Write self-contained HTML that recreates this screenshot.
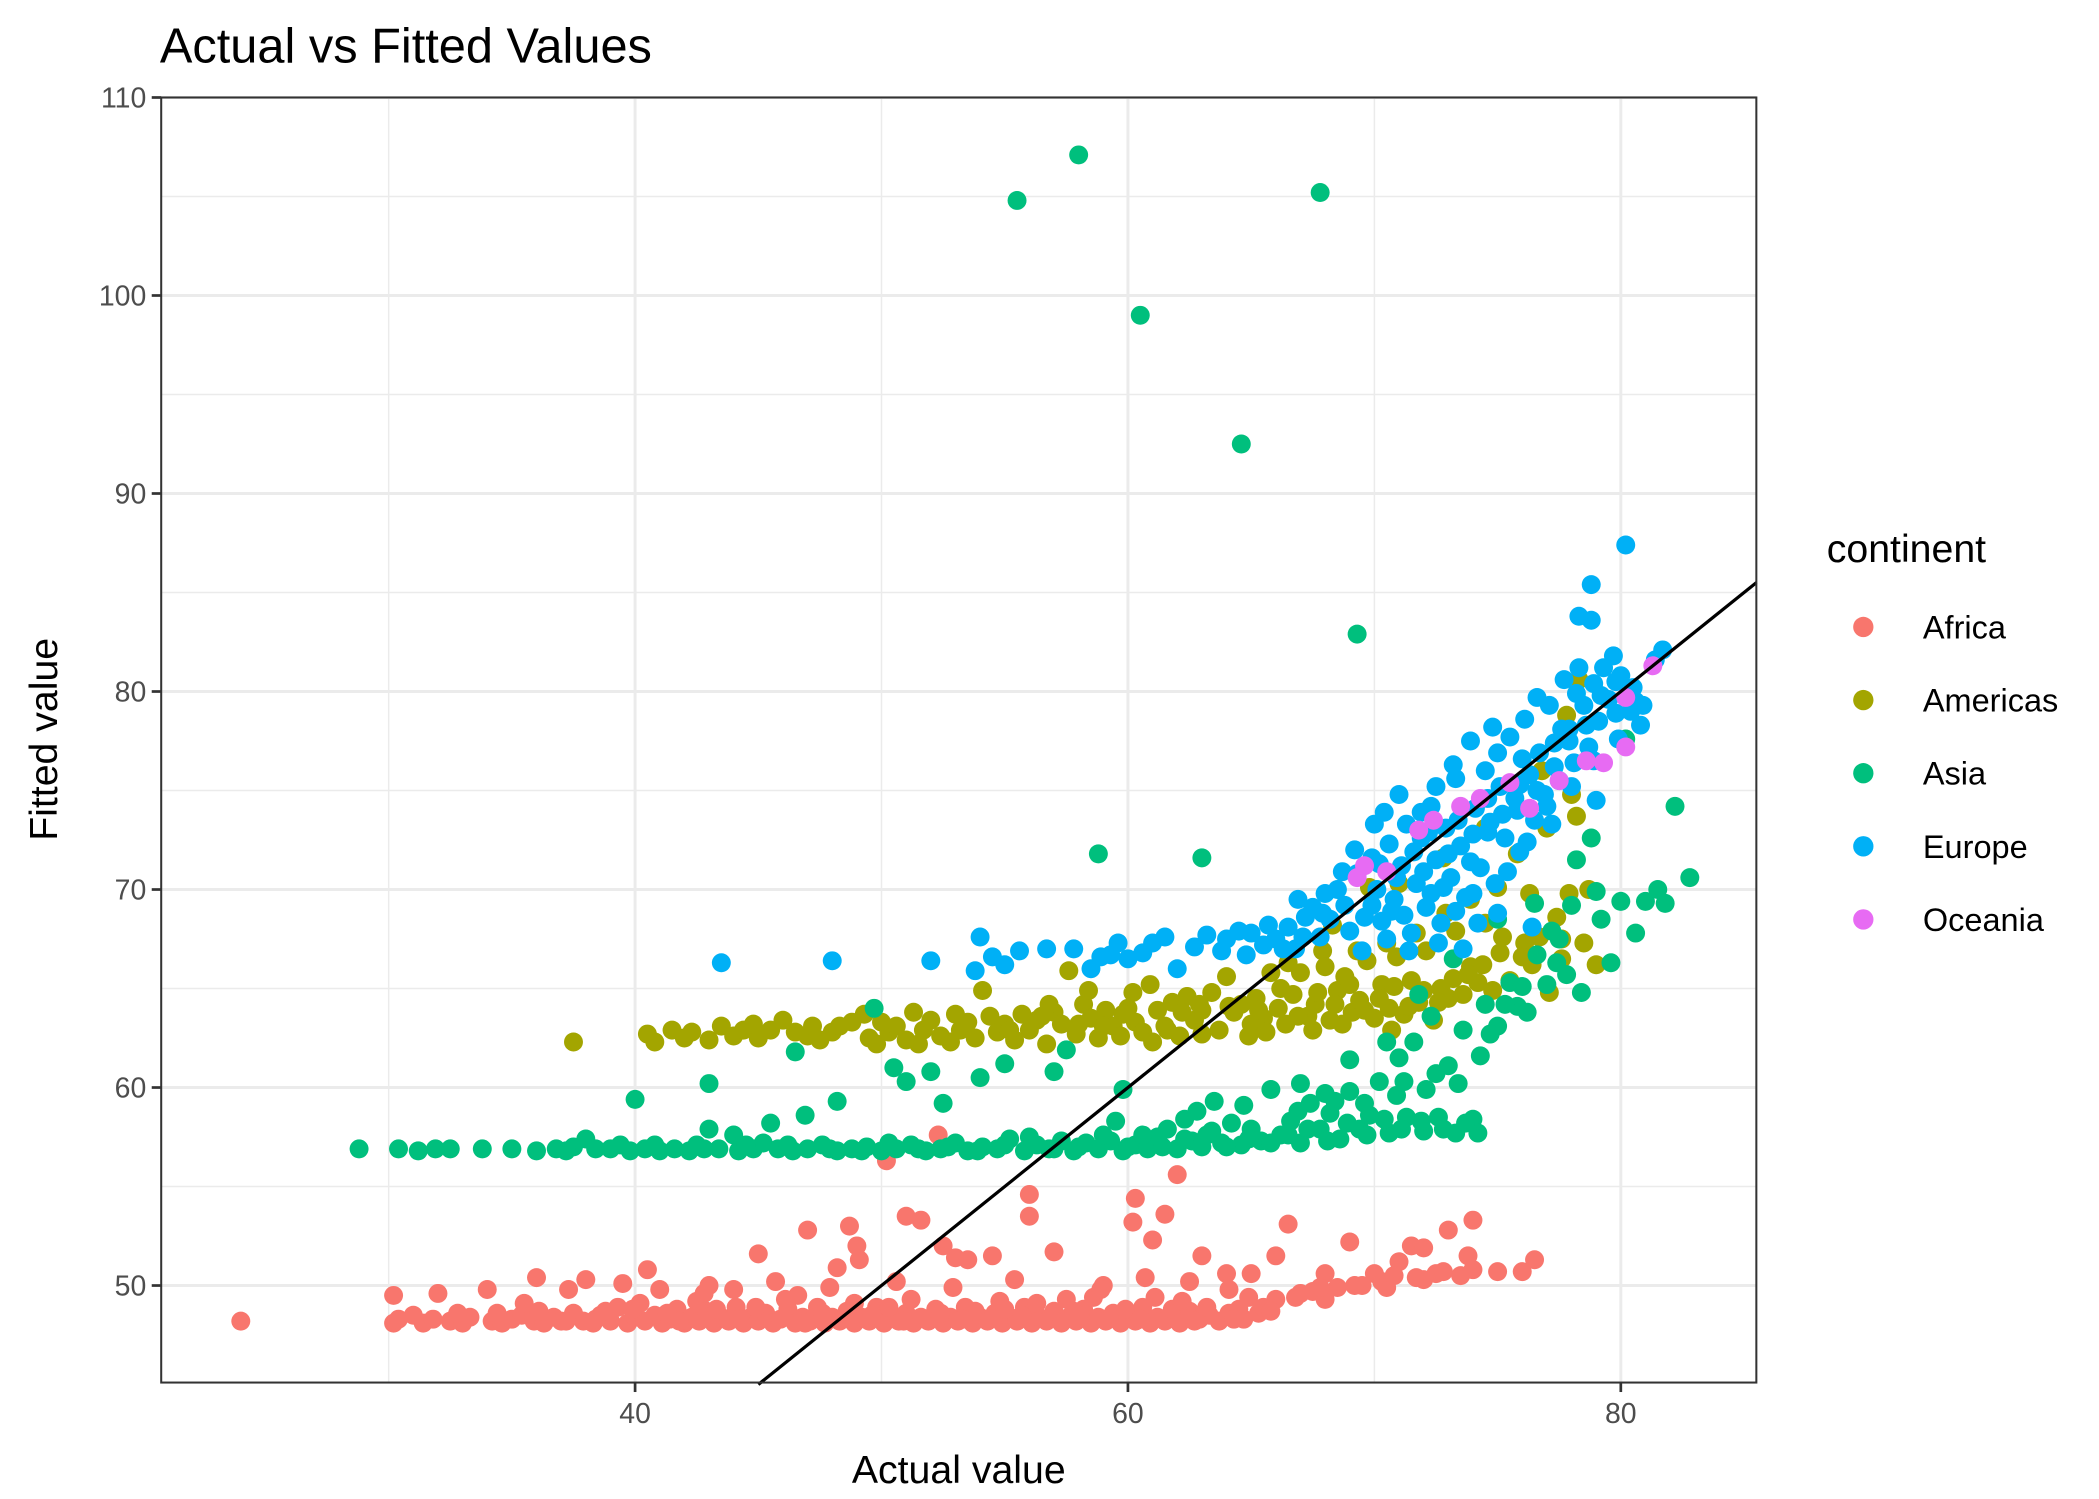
<!DOCTYPE html>
<html><head><meta charset="utf-8"><style>
html,body{margin:0;padding:0;background:#fff;}
svg{display:block;font-family:"Liberation Sans",Arial,sans-serif;}
</style></head><body>
<svg id="chart" width="2099" height="1499" viewBox="0 0 1550 1107" xmlns="http://www.w3.org/2000/svg">
<rect x="0" y="0" width="1550" height="1107" fill="#fff"/>
<text x="118" y="46" font-size="36" fill="#000">Actual vs Fitted Values</text>
<g id="grid"></g>
<g id="points"></g>
<g id="axes"></g>
<text x="708" y="1095" font-size="29" text-anchor="middle" fill="#000">Actual value</text>
<text transform="translate(42,546) rotate(-90)" font-size="29" text-anchor="middle" fill="#000">Fitted value</text>
<g>
<text x="1349" y="415" font-size="29" fill="#000">continent</text>
<g id="legend-items"></g>
</g>
</svg>
<script>
const xTicks=[40,60,80];
const yTicks=[50,60,70,80,90,100,110];
const continents=["Africa","Americas","Asia","Europe","Oceania"];
const colors=["#F8766D","#A3A500","#00BF7D","#00B0F6","#E76BF3"];
const africa=[[24,48.2],[30.2,48.1],[30.4,48.3],[30.2,49.5],[31.4,48.1],[31.8,48.3],[32,49.6],[32.5,48.2],[33,48.1],[33.3,48.4],[34,49.8],[34.2,48.2],[34.6,48.1],[35,48.3],[35.4,48.5],[35.5,49.1],[35.9,48.2],[36,50.4],[36.3,48.1],[36.7,48.4],[37,48.2],[37.3,49.8],[37.5,48.6],[37.9,48.2],[38,50.3],[38.3,48.1],[38.6,48.5],[39,48.2],[39.3,48.9],[39.5,50.1],[39.7,48.1],[40,48.4],[40.2,49.1],[40.4,48.2],[40.5,50.8],[40.8,48.5],[41.1,48.1],[41.4,48.3],[41.7,48.8],[42,48.1],[42.3,48.4],[42.6,48.2],[42.9,48.7],[43,50],[43.2,48.1],[43.5,48.4],[43.8,48.2],[44,49.8],[44.1,48.9],[44.4,48.1],[44.7,48.4],[45,48.2],[45,51.6],[45.3,48.6],[45.6,48.1],[45.9,48.3],[46.2,48.8],[46.5,48.1],[46.8,48.4],[47,52.8],[47.1,48.2],[47.4,48.9],[47.7,48.1],[48,48.4],[48.2,50.9],[48.3,48.2],[48.6,48.7],[48.7,53],[48.9,48.1],[49,52],[49.1,51.3],[49.2,48.4],[49.5,48.2],[49.8,48.9],[50.1,48.1],[50.2,56.3],[50.4,48.4],[50.7,48.2],[51,53.5],[51,48.6],[51.3,48.1],[51.6,53.3],[51.6,48.4],[51.9,48.2],[52.2,48.8],[52.3,57.6],[52.5,52],[52.5,48.1],[52.8,48.4],[53,51.4],[53.1,48.2],[53.4,48.9],[53.5,51.3],[53.7,48.1],[54,48.4],[54.3,48.2],[54.5,51.5],[54.6,48.6],[54.9,48.1],[55.2,48.4],[55.5,48.2],[55.8,48.9],[56,54.6],[56,53.5],[56.1,48.1],[56.4,48.4],[56.7,48.2],[57,51.7],[57,48.7],[57.3,48.1],[57.6,48.4],[57.9,48.2],[58.2,48.8],[58.5,48.1],[58.8,48.4],[59,50],[59.1,48.2],[59.4,48.6],[59.7,48.1],[60,48.4],[60.2,53.2],[60.3,54.4],[60.3,48.2],[60.6,48.9],[60.9,48.1],[61,52.3],[61.2,48.4],[61.5,53.6],[61.5,48.2],[61.8,48.8],[62,55.6],[62.1,48.1],[62.5,48.7],[62.9,48.3],[63,51.5],[63.3,48.5],[63.7,48.2],[64,50.6],[64.1,48.6],[64.5,48.8],[64.9,49.4],[65,50.6],[65.3,48.6],[65.5,48.9],[66,51.5],[66,49.3],[66.5,53.1],[67,49.6],[67.5,49.7],[68,50.6],[68,49.3],[68.5,49.9],[69,52.2],[69.5,50],[70,50.6],[70.3,50.2],[70.5,49.9],[71,51.2],[71.5,52],[72,51.9],[72,50.3],[72.5,50.6],[73,52.8],[73.5,50.5],[74,50.8],[74,53.3],[75,50.7],[76,50.7],[76.5,51.3],[54.8,49.2],[46.6,49.5],[57.5,49.3],[42.5,49.2],
[31,48.5],[32.8,48.6],[34.4,48.6],[36.1,48.7],[38.8,48.7],[39.9,48.8],[41.3,48.6],[43.3,48.8],[44.9,48.9],[46.1,49.3],[47.6,48.6],[48.9,49.1],[50.3,48.9],[51.2,49.3],[52.4,48.6],[53.8,48.7],[55,48.8],[56.3,49.1],[57.8,48.7],[58.6,49.4],[59.9,48.8],[61.1,49.4],[62.2,49.2],[63.2,48.9],[64.7,48.3],[65.8,48.7],[66.8,49.4],[67.8,49.9],[69.2,50],[70.8,50.5],[71.7,50.4],[72.8,50.7],[73.8,51.5],[37.2,48.2],[38.4,48.3],[41.8,48.2],[44.2,48.3],[46.9,48.1],[49.6,48.5],[50.9,48.2],[53.3,48.3],[55.7,48.5],[58,48.5],[60.5,48.3],[62.7,48.2],[64.3,48.3],[41,49.8],[42.8,49.6],[45.7,50.2],[47.9,49.9],[50.6,50.2],[52.9,49.9],[55.4,50.3],[58.9,49.8],[60.7,50.4],[62.5,50.2],[64.1,49.8]];
const americas=[[37.5,62.3],[40.5,62.7],[40.8,62.3],[42,62.5],[42.3,62.8],[43,62.4],[43.5,63.1],[44,62.6],[44.4,62.9],[45,62.5],[45.5,62.9],[46,63.4],[46.5,62.8],[47,62.6],[47.5,62.4],[48,62.8],[48.3,63.1],[48.8,63.3],[49.3,63.7],[49.5,62.5],[49.8,62.2],[50.3,62.8],[50.6,63.1],[51,62.4],[51.3,63.8],[51.7,62.9],[52,63.4],[52.4,62.6],[52.8,62.3],[53.2,62.9],[53.5,63.3],[53.8,62.5],[54.1,64.9],[54.4,63.6],[54.7,62.8],[55,63.2],[55.4,62.4],[55.7,63.7],[56,62.9],[56.3,63.4],[56.7,62.2],[57,63.8],[57.3,63.2],[57.6,65.9],[57.9,62.7],[58.2,64.2],[58.5,63.5],[58.8,62.5],[59.1,63.9],[59.4,63.1],[59.7,62.6],[60,64],[60.3,63.3],[60.6,62.8],[60.9,65.2],[61.2,63.9],[61.5,63.1],[61.8,64.3],[62.1,62.6],[62.4,64.6],[62.7,63.4],[63,63.9],[63.4,64.8],[63.7,62.9],[64,65.6],[64.3,63.8],[64.6,64.2],[64.9,62.6],[65.2,64.5],[65.5,63.5],[65.8,65.8],[66.1,64],[66.4,63.2],[66.7,64.7],[67,65.8],[67.3,63.6],[67.6,64.2],[67.9,66.9],[68.2,63.4],[68.5,64.9],[68.8,65.6],[69.1,63.8],[69.4,64.4],[69.7,66.4],[70,63.5],[70.3,65.2],[70.6,64],[70.9,66.6],[71.2,63.7],[71.5,65.4],[71.8,64.3],[72.1,66.9],[72.4,63.4],[72.7,65],[73,64.5],[73.3,67.9],[73.6,64.7],[73.9,66.1],[74.2,65.3],[74.5,68.3],[74.8,64.9],[75.1,66.8],[75.5,65.4],[75.8,71.8],[76.1,67.3],[76.4,66.2],[76.8,76],[77.1,64.8],[77.4,68.6],[77.6,66.5],[77.9,69.8],[78.2,73.7],[78.5,67.3],[78.7,70],[78.3,80.6],[79,66.2],[77.8,78.8],[71,70.3],[72.8,71.6],[74.5,73.1],[68.3,68.2],[69.8,70.1],[63,62.7],[65,63.2],[67.5,62.9],[61,62.3],[59,63.1],
[41.5,62.9],[44.8,63.2],[47.2,63.1],[50,63.3],[51.5,62.2],[53,63.7],[55.2,62.9],[56.5,63.6],[58,63.2],[59.8,63.7],[61.6,62.9],[62.9,64.2],[64.1,64.1],[65.3,63.9],[66.2,65],[66.9,63.6],[67.7,64.8],[68.4,64.2],[69,65.2],[69.6,63.9],[70.2,64.5],[70.8,65.1],[71.4,64.1],[72,64.9],[72.6,64.3],[73.2,65.5],[73.8,65.7],[74.4,66.2],[75.2,67.6],[76,66.6],[76.7,67.6],[77.6,67.5],[66.5,66.3],[68,66.1],[69.3,66.9],[70.5,67.3],[71.7,67.8],[72.9,68.8],[73.9,69.5],[75,70.1],[76.3,69.8],[77,73.1],[78,74.8],[65.6,62.8],[68.7,63.2],[70.7,62.9],[62.2,63.8],[60.2,64.8],[58.4,64.9],[56.8,64.2]];
const asia=[[28.8,56.9],[30.4,56.9],[31.2,56.8],[31.9,56.9],[32.5,56.9],[33.8,56.9],[35,56.9],[36,56.8],[36.8,56.9],[37.5,57],[38,57.4],[38.4,56.9],[39,56.9],[39.8,56.8],[40,59.4],[40.4,56.9],[41,56.8],[41.6,56.9],[42.2,56.8],[42.8,56.9],[43,57.9],[43,60.2],[43.4,56.9],[44,57.6],[44.2,56.8],[44.8,56.9],[45.2,57.2],[45.5,58.2],[45.8,56.9],[46.4,56.8],[46.5,61.8],[46.9,58.6],[47,56.9],[47.6,57.1],[48.2,59.3],[48.2,56.8],[48.8,56.9],[49.4,57],[49.7,64],[50,56.8],[50.5,61],[50.6,56.9],[51,60.3],[51.2,57.1],[51.8,56.8],[52,60.8],[52.4,56.9],[52.5,59.2],[53,57.2],[53.5,56.8],[54,60.5],[54.1,57],[54.7,56.9],[55,61.2],[55.2,57.4],[55.8,56.8],[55.5,104.8],[56.3,57.1],[56.8,56.9],[57,60.8],[57.3,57.3],[57.5,61.9],[57.8,56.8],[58,107.1],[58.3,57.2],[58.8,71.8],[58.8,56.9],[59.3,57.3],[59.5,58.3],[59.8,56.8],[59.8,59.9],[60.3,57.1],[60.5,99],[60.8,56.9],[61.2,57.5],[61.6,57.9],[62,56.9],[62.3,58.4],[62.6,57.3],[63,71.6],[63,57],[63.4,57.8],[63.8,57.2],[64.2,58.2],[64.6,92.5],[64.6,57.1],[65,57.9],[65.4,57.3],[65.8,59.9],[66.2,57.6],[66.6,58.3],[67,57.2],[67.4,59.2],[67.8,105.2],[67.8,57.9],[68.2,58.7],[68.6,57.4],[69,59.8],[69.3,82.9],[69.4,57.9],[69.8,58.6],[70.2,60.3],[70.6,57.7],[71,61.5],[71.3,58.5],[71.6,62.3],[72,57.8],[72.3,63.6],[72.6,58.5],[73,61.1],[73.3,57.7],[73.6,62.9],[74,58.4],[74.2,57.7],[74.5,64.2],[75,63.1],[75.5,65.3],[75.8,64.1],[76.2,63.8],[76.6,66.7],[77,65.2],[77.2,67.9],[77.5,67.5],[77.8,65.7],[78.2,71.5],[78.4,64.8],[78.8,72.6],[79.2,68.5],[79.6,66.3],[80,69.4],[80.2,77.6],[80.6,67.8],[81,69.4],[81.5,70],[81.8,69.3],[82.2,74.2],[82.8,70.6],[70.5,62.3],[71.8,64.7],[73.2,66.5],[75,68.5],[76.5,69.3],[69,61.4],[67,60.2],[68,59.7],[63.5,59.3],[71.2,60.3],[72.5,60.7],
[37.2,56.8],[39.4,57.1],[40.8,57.1],[42.5,57.1],[44.5,57.1],[46.2,57.1],[47.9,56.9],[49.2,56.8],[50.3,57.2],[51.5,56.9],[52.7,57],[53.9,56.8],[55,57.1],[56,57.5],[57,56.9],[58,57],[59,57.6],[60,57],[60.6,57.6],[61.4,57],[62.3,57.4],[63.2,57.6],[64,57],[64.9,57.4],[65.8,57.2],[66.5,57.6],[67.3,57.9],[68.1,57.3],[68.9,58.2],[69.7,57.6],[70.4,58.4],[71.1,57.9],[71.9,58.3],[72.8,57.9],[73.7,58.2],[66.9,58.8],[68.4,59.3],[69.6,59.2],[70.9,59.6],[72.1,59.9],[73.4,60.2],[74.3,61.6],[74.7,62.7],[75.3,64.2],[76,65.1],[77.4,66.3],[78,69.2],[79,69.9],[62.8,58.8],[64.7,59.1]];
const europe=[[43.5,66.3],[48,66.4],[52,66.4],[53.8,65.9],[54,67.6],[54.5,66.6],[55,66.2],[56.7,67],[57.8,67],[58.5,66],[59.3,66.7],[59.6,67.3],[60,66.5],[61,67.3],[61.5,67.6],[62,66],[63.2,67.7],[64,67.5],[64.5,67.9],[65,67.8],[64.8,66.7],[65.5,67.2],[66,67.5],[66.5,68.1],[66.8,67],[67.2,68.6],[67.5,69.1],[67.8,67.6],[68.2,68.5],[68.5,70],[68.8,69.2],[69,67.9],[69.3,70.8],[69.6,68.6],[69.9,71.6],[70.1,70],[70.3,68.4],[70.6,72.3],[70.8,69.5],[71.1,71.2],[71.3,73.3],[71.5,67.8],[71.7,70.3],[71.9,72.6],[72.1,69.1],[72.3,74.2],[72.5,71.5],[72.7,68.3],[72.9,73.1],[73.1,70.6],[73.3,75.6],[73.5,72.2],[73.7,69.6],[73.9,77.5],[74.1,74.1],[74.3,71.1],[74.5,76],[74.7,73.4],[74.9,70.3],[75.1,75.2],[75.3,72.6],[75.5,77.7],[75.7,74.6],[75.9,71.9],[76.1,78.6],[76.3,75.8],[76.5,73.5],[76.7,76.9],[76.9,74.8],[77.1,79.3],[77.3,77.4],[77.5,75.5],[77.7,80.6],[77.9,78.1],[78.1,76.4],[78.3,81.2],[78.5,79.3],[78.7,77.2],[78.9,80.4],[79.1,78.5],[79.3,81.2],[79.5,79.6],[79.7,81.8],[79.9,77.6],[80.2,87.4],[78.8,85.4],[78.3,83.8],[78.8,83.6],[80.5,80.2],[81.4,81.6],[81.7,82.1],[80.8,78.3],[80.4,79],[70,73.3],[71,74.8],[72,70.9],[73,71.8],[74,69.8],[75,68.8],[76.4,68.1],[72.6,67.3],[71.4,66.9],[73.6,67],[70.5,67.5],[69.5,66.9],[74.6,72.9],[75.8,74],[68,69.8],[66.9,69.5],[77.2,73.3],[79,74.5],[76,76.6],[77.6,78.1],[73.2,76.3],[74.8,78.2],
[69.2,72],[70.2,71.3],[70.9,70.6],[71.6,71.9],[72.2,72.9],[72.8,70.1],[73.4,73.5],[74,72.8],[74.6,74.6],[75.2,73.8],[75.9,75.3],[76.6,75],[77.3,76.2],[77.9,77.5],[78.6,78.3],[79.2,79.8],[79.8,80.5],[80.6,79.5],[71.2,68.7],[72.3,69.8],[73.3,68.9],[74.2,68.3],[69.9,69.2],[70.7,68.9],[68.7,70.9],[67.9,68.8],[67.1,67.6],[66.3,67],[65.7,68.2],[63.8,66.9],[62.7,67.1],[60.6,66.8],[58.9,66.6],[55.6,66.9],[73.9,71.4],[75.4,70.9],[76.2,72.4],[77,74.2],[78,75.2],[78.9,76.5],[79.8,78.9],[80.9,79.3],[72.5,75.2],[71.9,73.9],[70.4,73.9],[75,76.9],[76.6,79.7],[78.2,79.9],[80,80.8]];
const oceania=[[69.3,70.6],[69.6,71.2],[70.5,70.9],[71.8,73],[72.4,73.5],[73.5,74.2],[74.3,74.6],[75.5,75.4],[76.3,74.1],[77.5,75.5],[78.6,76.5],[79.3,76.4],[80.2,77.2],[80.2,79.7],[81.3,81.3]];
const seriesData=[africa,americas,asia,europe,oceania];
const lineRange=[45,85.5];

const L=119,R=1297,T=72,B=1021;
const xMin=20.77,xMax=85.5,yMin=45.1,yMax=110;
function xs(v){return L+(v-xMin)/(xMax-xMin)*(R-L);}
function ys(v){return B-(v-yMin)/(yMax-yMin)*(B-T);}
const NS="http://www.w3.org/2000/svg";
function mk(tag,attrs,parent){const e=document.createElementNS(NS,tag);for(const k in attrs)e.setAttribute(k,attrs[k]);parent.appendChild(e);return e;}
const grid=document.getElementById('grid'),axes=document.getElementById('axes'),pts=document.getElementById('points');
for(let v=30;v<=80;v+=20){const l=mk('line',{x1:xs(v),x2:xs(v),y1:T,y2:B,stroke:'#ebebeb','stroke-width':1.1},grid);

}
for(let v=55;v<=105;v+=10){const l=mk('line',{x1:L,x2:R,y1:ys(v),y2:ys(v),stroke:'#ebebeb','stroke-width':1.1},grid);

}
xTicks.forEach(v=>{const l=mk('line',{x1:xs(v),x2:xs(v),y1:T,y2:B,stroke:'#ebebeb','stroke-width':2.2},grid);


const t=mk('line',{x1:xs(v),x2:xs(v),y1:B,y2:B+7,stroke:'#333','stroke-width':2},axes);


const tx=mk('text',{x:xs(v),y:B+30,'font-size':21,'text-anchor':'middle',fill:'#4d4d4d'},axes);tx.textContent=v;

});
yTicks.forEach(v=>{const l=mk('line',{x1:L,x2:R,y1:ys(v),y2:ys(v),stroke:'#ebebeb','stroke-width':2.2},grid);


const t=mk('line',{x1:L-7,x2:L,y1:ys(v),y2:ys(v),stroke:'#333','stroke-width':2},axes);


const tx=mk('text',{x:L-11,y:ys(v)+7.5,'font-size':21,'text-anchor':'end',fill:'#4d4d4d'},axes);tx.textContent=v;

});
seriesData.forEach((arr,i)=>{arr.forEach(p=>{const c=mk('circle',{cx:xs(p[0]),cy:ys(p[1]),r:7,fill:colors[i]},pts);

});});
const ln=mk('line',{x1:xs(lineRange[0]),y1:ys(lineRange[0]),x2:xs(lineRange[1]),y2:ys(lineRange[1]),stroke:'#000','stroke-width':2.4},pts);


const fr=mk('rect',{x:L,y:T,width:R-L,height:B-T,fill:'none',stroke:'#333','stroke-width':1.5},axes);


const li=document.getElementById('legend-items');
continents.forEach((c,i)=>{const y=463+i*54;
const d=mk('circle',{cx:1376,cy:y,r:7.5,fill:colors[i]},li);


const t=mk('text',{x:1420,y:y+8.5,'font-size':24,fill:'#000'},li);t.textContent=c;

});
</script>
</body></html>
